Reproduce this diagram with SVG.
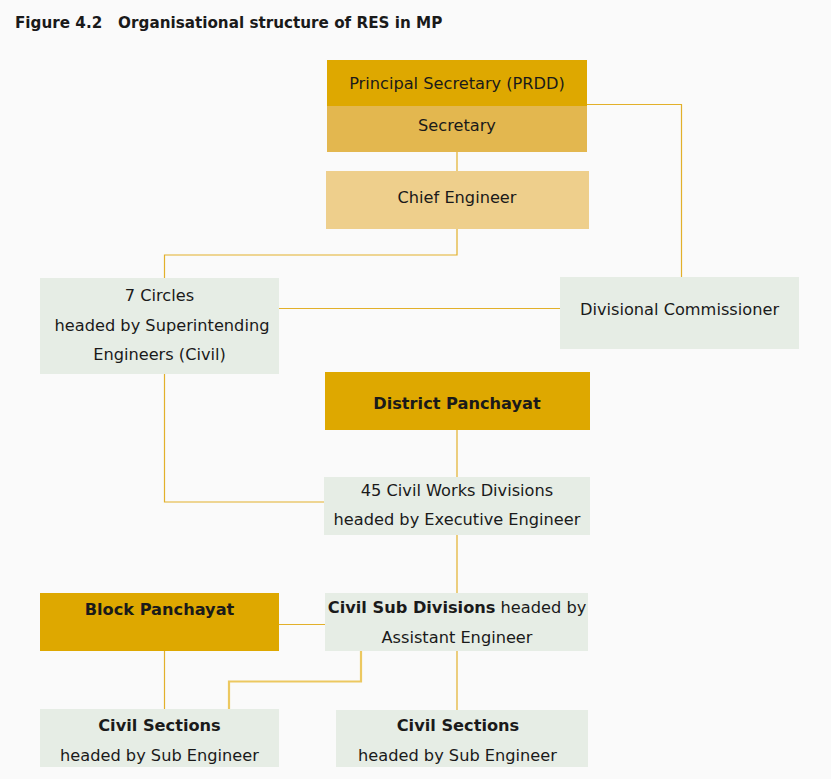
<svg xmlns="http://www.w3.org/2000/svg" width="831" height="779" viewBox="0 0 831 779">
<style>
text{font-family:"DejaVu Sans","Liberation Sans",sans-serif;font-size:16.2px;fill:#1a1a1a;text-anchor:middle}
.b{font-weight:bold}
.title{font-size:15.2px;font-weight:bold;text-anchor:start}
.g{fill:#e6ede5}
.d{fill:#dea800}
.s{fill:#e3b74f}
.c{fill:#eecf8c}
.ln{fill:none;stroke:#e2b02a;stroke-width:1.2}
.ln2{fill:none;stroke:#ecc860;stroke-width:2.2}
</style>
<rect width="831" height="779" fill="#fafafa"/>
<text class="title" x="15" y="28" xml:space="preserve">Figure 4.2   Organisational structure of RES in MP</text>
<g id="connectors">
<path class="ln" d="M457 152V171"/>
<path class="ln" d="M457 229V255H164.5V278"/>
<path class="ln" d="M587 104.5H681.5V277"/>
<path class="ln" d="M279 308.5H560"/>
<path class="ln" d="M164.5 374V502H324"/>
<path class="ln" d="M457 430V477"/>
<path class="ln" d="M457 535V593"/>
<path class="ln" d="M279 624.5H325"/>
<path class="ln" d="M164.5 651V709"/>
<path class="ln2" d="M361 651V681.5H229V709"/>
<path class="ln" d="M457 651V710"/>
</g>
<g id="principal">
<rect class="d" x="327" y="60" width="260" height="46"/>
<text x="457" y="89">Principal Secretary (PRDD)</text>
</g>
<g id="secretary">
<rect class="s" x="327" y="106" width="260" height="46"/>
<text x="457" y="131">Secretary</text>
</g>
<g id="chief">
<rect class="c" x="326" y="171" width="263" height="58"/>
<text x="457" y="203">Chief Engineer</text>
</g>
<g id="circles">
<rect class="g" x="40" y="278" width="239" height="96"/>
<text x="159.5" y="301">7 Circles</text>
<text x="162" y="331">headed by Superintending</text>
<text x="159.5" y="360">Engineers (Civil)</text>
</g>
<g id="divcom">
<rect class="g" x="560" y="277" width="239" height="72"/>
<text x="679.5" y="315">Divisional Commissioner</text>
</g>
<g id="district">
<rect class="d" x="325" y="372" width="265" height="58"/>
<text class="b" x="457" y="409">District Panchayat</text>
</g>
<g id="cwd">
<rect class="g" x="324" y="477" width="266" height="58"/>
<text x="457" y="496">45 Civil Works Divisions</text>
<text x="457" y="525">headed by Executive Engineer</text>
</g>
<g id="block">
<rect class="d" x="40" y="593" width="239" height="58"/>
<text class="b" x="159.5" y="615">Block Panchayat</text>
</g>
<g id="subdiv">
<rect class="g" x="325" y="593" width="263" height="58"/>
<text x="457" y="613"><tspan class="b">Civil Sub Divisions</tspan> headed by</text>
<text x="457" y="643">Assistant Engineer</text>
</g>
<g id="sec1">
<rect class="g" x="40" y="709" width="239" height="58"/>
<text class="b" x="159.5" y="731">Civil Sections</text>
<text x="159.5" y="761">headed by Sub Engineer</text>
</g>
<g id="sec2">
<rect class="g" x="336" y="710" width="252" height="57"/>
<text class="b" x="458" y="731">Civil Sections</text>
<text x="457.5" y="761">headed by Sub Engineer</text>
</g>
</svg>
